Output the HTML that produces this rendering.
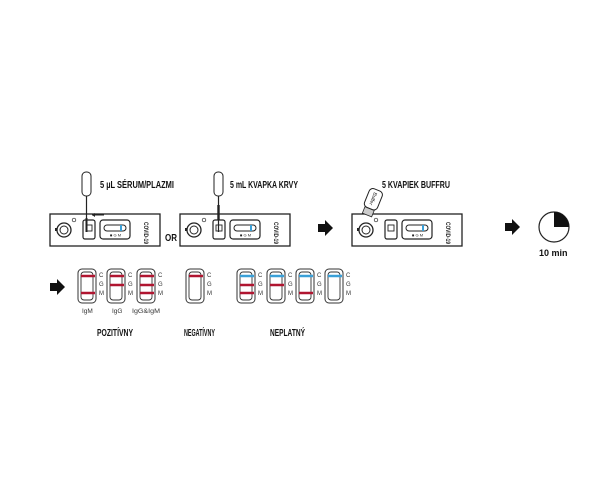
<!DOCTYPE html>
<html><head><meta charset="utf-8"><style>
html,body{margin:0;padding:0;background:#fff;}
svg{display:block;}
text{font-family:"Liberation Sans",sans-serif;}
.h{font-weight:bold;font-size:10px;fill:#111;}
.s{font-size:6px;fill:#333;}
</style></head><body>
<svg width="600" height="495" viewBox="0 0 600 495">
<defs>
<g id="cas">
  <rect x="0" y="0" width="110" height="32" fill="#fff" stroke="#222" stroke-width="1.3"/>
  <circle cx="14" cy="16" r="7" fill="none" stroke="#222" stroke-width="1.3"/>
  <circle cx="14" cy="16" r="4" fill="none" stroke="#222" stroke-width="1"/>
  <rect x="5" y="14" width="2" height="3" fill="#222"/>
  <circle cx="24" cy="6" r="1.8" fill="none" stroke="#222" stroke-width="0.7"/>
  <rect x="33" y="6" width="12" height="19" rx="2" fill="none" stroke="#222" stroke-width="1.2"/>
  <rect x="36" y="11" width="6" height="6" fill="none" stroke="#222" stroke-width="0.9"/>
  <rect x="50" y="6" width="30" height="19" rx="3" fill="none" stroke="#222" stroke-width="1.2"/>
  <rect x="54" y="11" width="22" height="6" rx="3" fill="none" stroke="#222" stroke-width="1"/>
  <rect x="70" y="11" width="2" height="6" fill="#3aa0d8"/>
  <text x="60" y="22.5" font-size="4" fill="#222">■ G M</text>
  <text transform="translate(94,8) rotate(90)" font-size="6" font-weight="bold" fill="#222" textLength="22" lengthAdjust="spacingAndGlyphs">COVID-19</text>
</g>
<g id="strip">
  <rect x="0" y="0" width="18" height="34" rx="4" fill="none" stroke="#333" stroke-width="1"/>
  <rect x="3" y="3" width="12" height="28" rx="3" fill="none" stroke="#333" stroke-width="0.9"/>
  <text x="21" y="8" class="s">C</text>
  <text x="21" y="17" class="s">G</text>
  <text x="21" y="26" class="s">M</text>
</g>
<path id="arr" d="M0,-4 L7,-4 L7,-8 L15,0 L7,8 L7,4 L0,4 Z" fill="#111"/>
</defs>

<use href="#cas" x="50" y="214"/>
<use href="#cas" x="180" y="214"/>
<use href="#cas" x="352" y="214"/>
<text x="165" y="241" class="h" font-size="9" textLength="12" lengthAdjust="spacingAndGlyphs">OR</text>

<rect x="82" y="172" width="9" height="24" rx="4" fill="#fff" stroke="#222" stroke-width="1"/>
<line x1="86.5" y1="196" x2="86.5" y2="232" stroke="#222" stroke-width="1.2"/>
<line x1="86.5" y1="218" x2="86.5" y2="232" stroke="#222" stroke-width="2"/>
<line x1="92" y1="215" x2="104" y2="215" stroke="#222" stroke-width="1"/>
<path d="M92,215 l3,-2 l0,4z" fill="#222"/>
<text x="100" y="188" class="h" textLength="74" lengthAdjust="spacingAndGlyphs">5 µL SÉRUM/PLAZMI</text>

<rect x="214" y="172" width="9" height="24" rx="4" fill="#fff" stroke="#222" stroke-width="1"/>
<line x1="218.5" y1="196" x2="218.5" y2="232" stroke="#222" stroke-width="1.2"/>
<line x1="218.5" y1="205" x2="218.5" y2="220" stroke="#222" stroke-width="2.4"/>
<text x="230" y="188" class="h" textLength="68" lengthAdjust="spacingAndGlyphs">5 mL KVAPKA KRVY</text>

<g transform="translate(367,215) rotate(22)">
  <rect x="-5" y="-7" width="10" height="7" fill="#ccc" stroke="#222" stroke-width="0.8"/>
  <rect x="-7" y="-27" width="14" height="20" rx="4" fill="#fff" stroke="#222" stroke-width="1"/>
  <text transform="translate(-2,-24) rotate(90)" font-size="5" fill="#222">Buffer</text>
</g>
<text x="382" y="188" class="h" textLength="68" lengthAdjust="spacingAndGlyphs">5 KVAPIEK BUFFRU</text>

<use href="#arr" x="318" y="228"/>
<use href="#arr" x="505" y="227"/>
<use href="#arr" x="50" y="287"/>

<circle cx="554" cy="227" r="15" fill="#fff" stroke="#222" stroke-width="1.2"/>
<path d="M554,227 L554,212 A15,15 0 0,1 569,227 Z" fill="#111"/>
<text x="539" y="256" font-size="9" font-weight="bold" fill="#111">10 min</text>

<use href="#strip" x="78" y="269"/>
<use href="#strip" x="107" y="269"/>
<use href="#strip" x="137" y="269"/>
<use href="#strip" x="186" y="269"/>
<use href="#strip" x="237" y="269"/>
<use href="#strip" x="267" y="269"/>
<use href="#strip" x="296" y="269"/>
<use href="#strip" x="325" y="269"/>
<g stroke-width="2.5">
<line x1="81" y1="276" x2="95" y2="276" stroke="#b01530"/>
<line x1="81" y1="293" x2="95" y2="293" stroke="#b01530"/>
<line x1="110" y1="276" x2="124" y2="276" stroke="#b01530"/>
<line x1="110" y1="285" x2="124" y2="285" stroke="#b01530"/>
<line x1="140" y1="276" x2="154" y2="276" stroke="#b01530"/>
<line x1="140" y1="285" x2="154" y2="285" stroke="#b01530"/>
<line x1="140" y1="293" x2="154" y2="293" stroke="#b01530"/>
<line x1="189" y1="276" x2="203" y2="276" stroke="#b01530"/>
<line x1="240" y1="276" x2="254" y2="276" stroke="#3aa0d8"/>
<line x1="240" y1="285" x2="254" y2="285" stroke="#b01530"/>
<line x1="240" y1="293" x2="254" y2="293" stroke="#b01530"/>
<line x1="270" y1="276" x2="284" y2="276" stroke="#3aa0d8"/>
<line x1="270" y1="285" x2="284" y2="285" stroke="#b01530"/>
<line x1="299" y1="276" x2="313" y2="276" stroke="#3aa0d8"/>
<line x1="299" y1="293" x2="313" y2="293" stroke="#b01530"/>
<line x1="328" y1="276" x2="342" y2="276" stroke="#3aa0d8"/>
</g>
<text x="82" y="313" font-size="6.5" fill="#333">IgM</text>
<text x="112" y="313" font-size="6.5" fill="#333">IgG</text>
<text x="132" y="313" font-size="6.5" fill="#333" textLength="28" lengthAdjust="spacingAndGlyphs">IgG&amp;IgM</text>

<text x="97" y="336" class="h" textLength="36" lengthAdjust="spacingAndGlyphs">POZITÍVNY</text>
<text x="184" y="336" class="h" textLength="31" lengthAdjust="spacingAndGlyphs">NEGATÍVNY</text>
<text x="270" y="336" class="h" textLength="35" lengthAdjust="spacingAndGlyphs">NEPLATNÝ</text>
</svg>
</body></html>
